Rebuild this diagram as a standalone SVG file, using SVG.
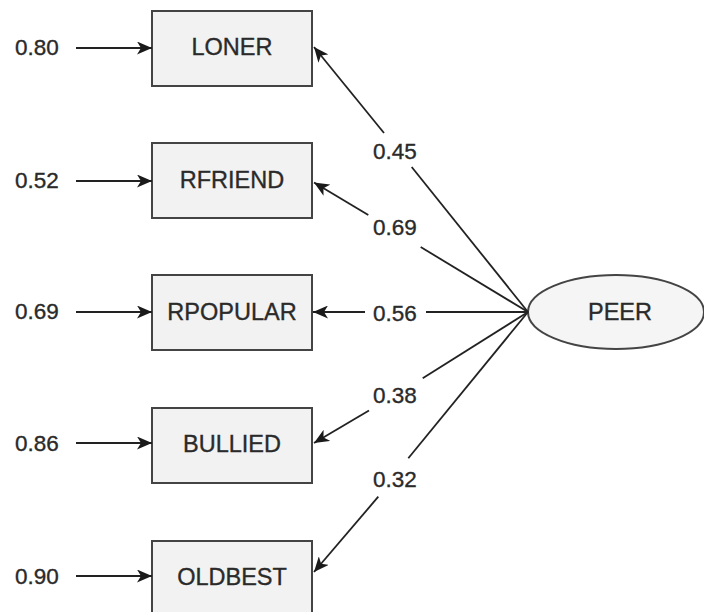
<svg xmlns="http://www.w3.org/2000/svg" width="704" height="612" viewBox="0 0 704 612">
<defs>
<marker id="ah" markerUnits="userSpaceOnUse" markerWidth="17" markerHeight="13" refX="15" refY="6.5" orient="auto">
<path d="M0,0 L15,6.5 L0,13 L4,6.5 z" fill="#1a1a1a"/>
</marker>
<style>
.box{fill:#f2f2f2;stroke:#444;stroke-width:2}
.lbl{font-family:"Liberation Sans",Arial,sans-serif;font-size:23.5px;fill:#2a2a2a;stroke:#2a2a2a;stroke-width:0.35;text-anchor:middle;dominant-baseline:central}
.num{font-family:"Liberation Sans",Arial,sans-serif;font-size:22.5px;fill:#2a2a2a;stroke:#2a2a2a;stroke-width:0.35;text-anchor:middle;dominant-baseline:central}
.ln{stroke:#222;stroke-width:1.8;fill:none}
</style>
</defs>
<rect width="704" height="612" fill="#fff"/>
<g id="LONER"><rect class="box" x="152" y="11" width="160" height="75"/><text class="lbl" x="232" y="47">LONER</text></g>
<g id="RFRIEND"><rect class="box" x="152" y="143" width="160" height="75"/><text class="lbl" x="232" y="180">RFRIEND</text></g>
<g id="RPOPULAR"><rect class="box" x="152" y="275" width="160" height="75"/><text class="lbl" x="232" y="312">RPOPULAR</text></g>
<g id="BULLIED"><rect class="box" x="152" y="408" width="160" height="75"/><text class="lbl" x="232" y="444">BULLIED</text></g>
<g id="OLDBEST"><rect class="box" x="152" y="541" width="160" height="75"/><text class="lbl" x="232" y="577">OLDBEST</text></g>
<g id="PEER"><ellipse cx="616" cy="312" rx="88" ry="37" fill="#f5f5f5" stroke="#444" stroke-width="2"/><text class="lbl" x="620" y="312">PEER</text></g>
<g id="errors">
<text class="num" x="37" y="47">0.80</text>
<text class="num" x="37" y="180">0.52</text>
<text class="num" x="37" y="311">0.69</text>
<text class="num" x="37" y="443">0.86</text>
<text class="num" x="37" y="576">0.90</text>
</g>
<g id="connectors">
<line class="ln" x1="76" y1="48" x2="152" y2="48" marker-end="url(#ah)"/>
<line class="ln" x1="76" y1="181" x2="152" y2="181" marker-end="url(#ah)"/>
<line class="ln" x1="76" y1="312" x2="152" y2="312" marker-end="url(#ah)"/>
<line class="ln" x1="76" y1="443" x2="152" y2="443" marker-end="url(#ah)"/>
<line class="ln" x1="76" y1="576" x2="152" y2="576" marker-end="url(#ah)"/>
<line class="ln" x1="528" y1="312" x2="411.7" y2="167"/>
<line class="ln" x1="384" y1="133" x2="314" y2="47" marker-end="url(#ah)"/>
<line class="ln" x1="528" y1="312" x2="420.7" y2="247"/>
<line class="ln" x1="368.3" y1="215" x2="314" y2="182.5" marker-end="url(#ah)"/>
<line class="ln" x1="528" y1="312" x2="426" y2="312"/>
<line class="ln" x1="365" y1="312" x2="313" y2="312" marker-end="url(#ah)"/>
<line class="ln" x1="528" y1="312" x2="422.7" y2="378.3"/>
<line class="ln" x1="369" y1="410.5" x2="314" y2="443" marker-end="url(#ah)"/>
<line class="ln" x1="528" y1="312" x2="408.3" y2="458.3"/>
<line class="ln" x1="378.3" y1="496.7" x2="314" y2="572" marker-end="url(#ah)"/>
</g>
<g id="loadings">
<text class="num" x="395" y="151">0.45</text>
<text class="num" x="395" y="227.5">0.69</text>
<text class="num" x="395" y="313">0.56</text>
<text class="num" x="395" y="395">0.38</text>
<text class="num" x="395" y="479">0.32</text>
</g>
</svg>
